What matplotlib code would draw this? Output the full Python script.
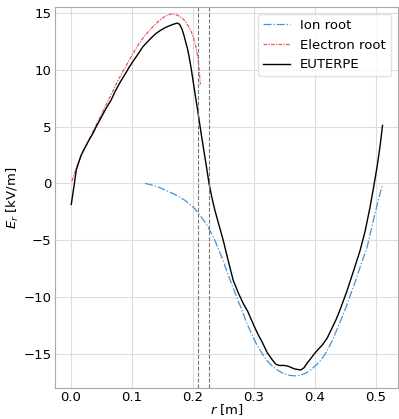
import matplotlib
matplotlib.use("Agg")
import matplotlib.pyplot as plt

# EUTERPE
r_eut = [0.001, 0.0037, 0.0065, 0.0092, 0.0135, 0.017, 0.021, 0.025, 0.030, 0.036, 0.041, 0.047,
         0.052, 0.058, 0.066, 0.073, 0.080, 0.088, 0.0956, 0.103, 0.112, 0.118, 0.125, 0.132,
         0.139, 0.147, 0.155, 0.166, 0.174, 0.178, 0.182, 0.185, 0.188, 0.191, 0.193, 0.197,
         0.201, 0.205, 0.208, 0.213, 0.218, 0.2225, 0.2265, 0.231, 0.236, 0.243, 0.2496, 0.258,
         0.266, 0.275, 0.283, 0.290, 0.300, 0.307, 0.314, 0.322, 0.330, 0.336, 0.3415, 0.350,
         0.3577, 0.366, 0.3765, 0.382, 0.387, 0.393, 0.3985, 0.405, 0.412, 0.4198, 0.428, 0.435,
         0.441, 0.452, 0.463, 0.474, 0.482, 0.490, 0.496, 0.502, 0.507, 0.5105]
E_eut = [-1.85, -0.88, 0.14, 1.17, 1.9, 2.45, 2.9, 3.3, 3.8, 4.35, 4.9, 5.5,
         6.0, 6.6, 7.3, 8.1, 8.8, 9.5, 10.2, 10.8, 11.5, 12.0, 12.4, 12.8,
         13.15, 13.45, 13.7, 13.95, 14.09, 14.0, 13.6, 13.1, 12.5, 11.9, 11.4, 10.2,
         8.8, 7.4, 6.4, 4.6, 2.9, 1.4, 0.0, -1.2, -2.34, -3.7, -4.97, -6.8,
         -8.5, -9.7, -10.6, -11.26, -12.5, -13.3, -14.0, -14.9, -15.5, -15.9, -16.0, -16.0,
         -16.1, -16.3, -16.4, -16.2, -15.8, -15.4, -15.0, -14.6, -14.2, -13.6, -12.7, -11.9,
         -11.1, -9.5, -7.7, -5.85, -4.2, -2.1, -0.3, 1.6, 3.5, 5.1]

# Ion root
r_ion = [0.1216, 0.130, 0.140, 0.148, 0.155, 0.163, 0.170, 0.176, 0.182, 0.188, 0.193, 0.197,
         0.201, 0.205, 0.209, 0.213, 0.217, 0.221, 0.225, 0.230, 0.236, 0.241, 0.247, 0.255,
         0.263, 0.271, 0.279, 0.285, 0.290, 0.297, 0.304, 0.3117, 0.319, 0.326, 0.3334, 0.341,
         0.348, 0.356, 0.363, 0.370, 0.377, 0.3874, 0.394, 0.400, 0.407, 0.414, 0.422, 0.430,
         0.437, 0.444, 0.452, 0.460, 0.468, 0.476, 0.4846, 0.491, 0.497, 0.503, 0.5105]
E_ion = [0.0, -0.1, -0.25, -0.42, -0.59, -0.78, -0.95, -1.12, -1.32, -1.52, -1.75, -1.9,
         -2.1, -2.35, -2.63, -2.9, -3.2, -3.5, -3.85, -4.35, -5.0, -5.65, -6.44, -7.6,
         -8.77, -9.9, -10.96, -11.8, -12.5, -13.3, -14.1, -14.8, -15.4, -15.85, -16.2, -16.5,
         -16.7, -16.85, -16.9, -16.92, -16.85, -16.6, -16.35, -16.05, -15.7, -15.2, -14.5, -13.6,
         -12.7, -11.8, -10.7, -9.5, -8.3, -7.0, -5.75, -4.3, -2.9, -1.6, -0.06]

# Electron root
r_ele = [0.002, 0.004, 0.010, 0.017, 0.026, 0.036, 0.047, 0.058, 0.068, 0.077, 0.086, 0.0956,
         0.104, 0.112, 0.120, 0.130, 0.139, 0.146, 0.152, 0.159, 0.166, 0.172, 0.178, 0.183,
         0.1876, 0.192, 0.195, 0.198, 0.201, 0.205, 0.209, 0.2123]
E_ele = [0.2, 0.5, 1.45, 2.4, 3.4, 4.5, 5.7, 6.9, 8.0, 9.0, 9.9, 10.8,
         11.6, 12.3, 12.9, 13.5, 14.03, 14.35, 14.6, 14.8, 14.9, 14.85, 14.7, 14.5,
         14.25, 13.9, 13.6, 13.25, 12.8, 12.0, 10.8, 8.7]

vlines = [0.208, 0.226]

fig = plt.figure(figsize=(3.99, 4.19), dpi=100)
ax = fig.add_axes([0.138, 0.0735, 0.859, 0.9096])

ax.plot(r_ion, E_ion, color="#2a7fc8", ls="-.", lw=0.9, alpha=0.85, label="Ion root")
ax.plot(r_ele, E_ele, color="#e03030", ls=(0, (3, 1, 1, 1)), lw=0.9, alpha=0.8, label="Electron root")
ax.plot(r_eut, E_eut, color="black", lw=1.0, label="EUTERPE")
for v in vlines:
    ax.axvline(v, color="#777777", ls="--", lw=0.8)

ax.set_xlim(-0.0255, 0.5355)
ax.set_ylim(-18.0, 15.5)
ax.set_xticks([0.0, 0.1, 0.2, 0.3, 0.4, 0.5])
ax.set_yticks([-15, -10, -5, 0, 5, 10, 15])
ax.grid(True, color="#dddddd", lw=0.8)
ax.set_axisbelow(True)
ax.tick_params(length=0, labelsize=9.5, pad=2.5)
ax.tick_params(axis="x", pad=2)
for s in ax.spines.values():
    s.set_color("#aaaaaa")
ax.set_xlabel("$r$ [m]", fontsize=9.5, labelpad=-1)
ax.set_ylabel("$E_r$ [kV/m]", fontsize=9.5, labelpad=2)
ax.legend(loc="upper right", fontsize=9.5, framealpha=0.8, edgecolor="#dddddd")

fig.savefig("out.png", dpi=100)
